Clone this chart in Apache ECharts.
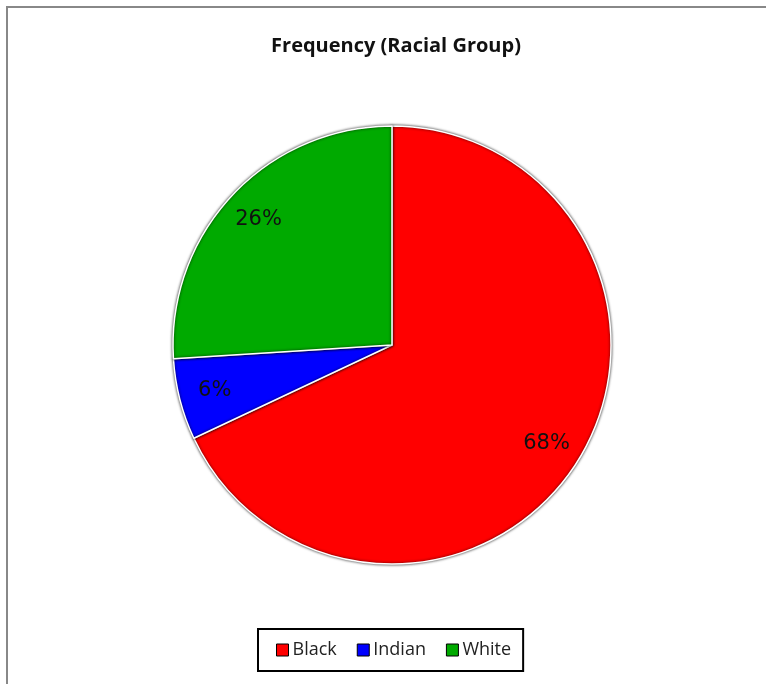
<!DOCTYPE html>
<html>
<head>
<meta charset="utf-8">
<script src="https://cdn.jsdelivr.net/npm/echarts@6/dist/echarts.min.js"></script>
<style>
    html, body { margin: 0; padding: 0; background: #fff; }
    #J_chartPieBox { width: 766px; height: 684px; }
</style>
</head>
<body>
<div id="J_chartPieBox"></div>
<script>
// 数据
var groups = ['Black', 'Indian', 'White']
var shares = [68, 6, 26]
var colors = ['#ff0000', '#0000ff', '#00aa00']

var pieData = []
for (var i = 0; i < groups.length; i++) {
    pieData.push({ name: groups[i], value: shares[i] })
}

var chartPie = echarts.init(document.getElementById('J_chartPieBox'))
var option = {
    color: colors,
    animation: false,
    title: {
        text: 'Frequency (Racial Group)',
        left: 391,
        top: 31,
        textAlign: 'center',
        textStyle: {
            fontFamily: 'Open Sans',
            fontSize: 20,
            fontWeight: 'bold',
            color: '#111'
        }
    },
    legend: {
        data: groups,
        left: 258,
        top: 629,
        padding: [12, 12, 12, 18],
        borderColor: '#000',
        borderWidth: 2,
        itemWidth: 12,
        itemHeight: 12,
        itemGap: 20,
        icon: 'rect',
        itemStyle: { borderColor: '#000', borderWidth: 1 },
        textStyle: { fontFamily: 'Open Sans', fontSize: 18, color: '#222', padding: [0, 0, 0, -1] }
    },
    graphic: [{
        type: 'rect',
        shape: { x: 7, y: 7, width: 800, height: 720 },
        style: { fill: 'none', stroke: '#888', lineWidth: 2 },
        silent: true,
        z: -1
    }],
    series: [{
        name: 'Frequency',
        type: 'pie',
        center: [392, 345],
        radius: 219,
        startAngle: 90,
        clockwise: true,
        data: pieData,
        label: { show: false },
        labelLine: { show: false },
        itemStyle: {
            borderColor: '#fff',
            borderWidth: 1.5,
            shadowBlur: 3,
            shadowColor: 'rgba(0, 0, 0, 0.8)'
        },
        silent: true
    }, {
        // 只用于放置百分比标签
        name: 'labels',
        type: 'pie',
        center: [392, 345],
        radius: [141, 219],
        startAngle: 90,
        clockwise: true,
        data: pieData,
        itemStyle: { color: 'transparent' },
        label: {
            show: true,
            position: 'inside',
            formatter: '{c}%',
            fontFamily: 'DejaVu Sans',
            fontSize: 21,
            color: '#111'
        },
        labelLine: { show: false },
        legendHoverLink: false,
        silent: true
    }]
}
chartPie.setOption(option)
</script>
</body>
</html>
